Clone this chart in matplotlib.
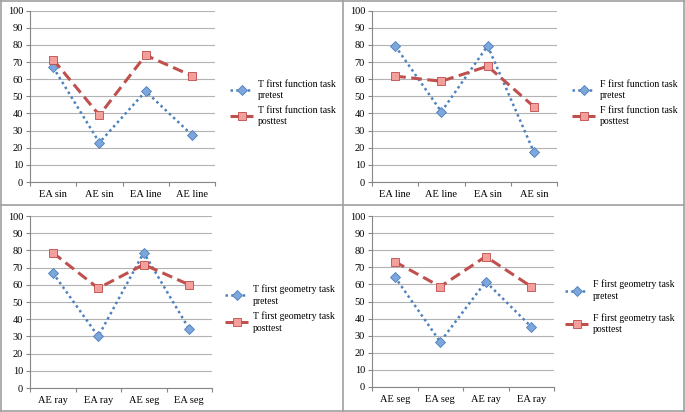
import matplotlib.pyplot as plt
from matplotlib.lines import Line2D

plt.rcParams['font.family'] = ['Liberation Serif', 'DejaVu Serif']

# top left
cats_tl = ['EA sin', 'AE sin', 'EA line', 'AE line']
pre_tl = [67, 23, 53, 27.5]
post_tl = [71.5, 39, 74, 62]
labels_tl = ['T first function task\npretest', 'T first function task\nposttest']

# top right
cats_tr = ['EA line', 'AE line', 'EA sin', 'AE sin']
pre_tr = [79.5, 41, 79.5, 17.5]
post_tr = [61.8, 58.8, 67.6, 44]
labels_tr = ['F first function task\npretest', 'F first function task\nposttest']

# bottom left
cats_bl = ['AE ray', 'EA ray', 'AE seg', 'EA seg']
pre_bl = [67, 30, 78.7, 34.2]
post_bl = [78.7, 58, 71.8, 60]
labels_bl = ['T first geometry task\npretest', 'T first geometry task\nposttest']

# bottom right
cats_br = ['AE seg', 'EA seg', 'AE ray', 'EA ray']
pre_br = [64.5, 26.4, 61.6, 35.2]
post_br = [73.3, 58.7, 76.3, 58.7]
labels_br = ['F first geometry task\npretest', 'F first geometry task\nposttest']

W, H = 685, 412
fig = plt.figure(figsize=(W / 100, H / 100), dpi=100)

blue = '#4f81bd'
red = '#c0504d'


def panel(box, cats, pre, post, labels, leg_x, leg_y, spacing):
    l, t, r, b = box
    ax = fig.add_axes([l / W, 1 - b / H, (r - l) / W, (b - t) / H])
    x = range(len(cats))
    ax.plot(x, pre, color=blue, lw=1.8, linestyle=(0, (1, 1.3)),
            marker='D', markersize=4.8, markerfacecolor='#7da7dc',
            markeredgecolor='#4a7ebb', markeredgewidth=0.6, label=labels[0])
    ax.plot(x, post, color=red, lw=2.2, linestyle=(0, (3.5, 1.8)),
            marker='s', markersize=5.3, markerfacecolor='#f3a09d',
            markeredgecolor='#be4b48', markeredgewidth=0.6, label=labels[1])
    ax.set_xlim(-0.5, len(cats) - 0.5)
    ax.set_ylim(0, 100)
    ax.set_yticks(range(0, 101, 10))
    ax.set_xticks(list(x))
    ax.set_xticklabels(cats)
    ax.set_xticks([i - 0.5 for i in range(len(cats) + 1)], minor=True)
    ax.tick_params(axis='x', which='major', length=0, pad=6, labelsize=7.5)
    ax.tick_params(axis='x', which='minor', length=3, color='#868686', width=0.8)
    ax.tick_params(axis='y', length=3, color='#868686', width=0.8, pad=2, labelsize=7.5)
    ax.yaxis.grid(True, color='#b3b3b3', lw=0.8)
    ax.set_axisbelow(True)
    for s in ['top', 'right']:
        ax.spines[s].set_visible(False)
    for s in ['left', 'bottom']:
        ax.spines[s].set_color('#868686')
        ax.spines[s].set_linewidth(0.8)
    leg = ax.legend(loc='center left', bbox_to_anchor=(leg_x / W, 1 - leg_y / H),
                    bbox_transform=fig.transFigure, frameon=False, fontsize=7,
                    borderpad=0, borderaxespad=0, handlelength=2.4, handletextpad=0.5,
                    labelspacing=spacing)
    for txt in leg.get_texts():
        txt.set_linespacing(1.4)
    return ax


panel((30, 10.7, 215, 182), cats_tl, pre_tl, post_tl, labels_tl, 230, 103, 0.55)
panel((372, 10.7, 557, 182), cats_tr, pre_tr, post_tr, labels_tr, 572, 103, 0.55)
panel((30, 216, 212, 388), cats_bl, pre_bl, post_bl, labels_bl, 225, 308.5, 0.6)
panel((372, 216, 554, 387), cats_br, pre_br, post_br, labels_br, 565, 307, 1.2)

# panel borders
grey = '#a0a0a0'
for xp in [0.5, 342.5, 683.5]:
    fig.add_artist(Line2D([xp / W, xp / W], [0, 1], color=grey, lw=1.2))
for yp in [0.5, 205, 411]:
    fig.add_artist(Line2D([0, 1], [1 - yp / H, 1 - yp / H], color=grey, lw=1.2))

fig.savefig('out.png', dpi=100)
